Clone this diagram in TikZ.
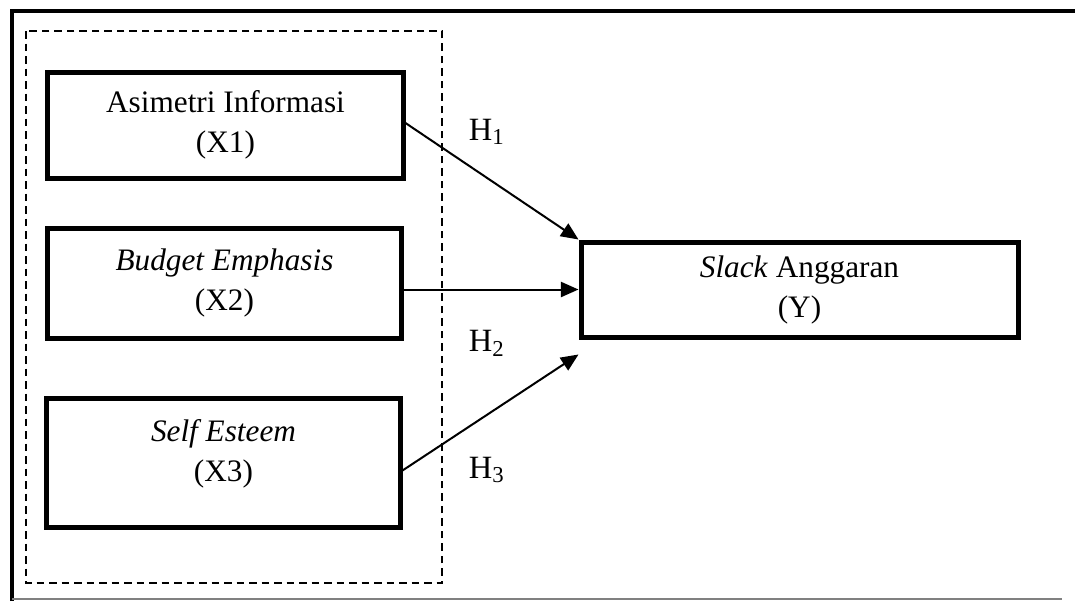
\documentclass[tikz,border=0pt]{standalone}
\usepackage{fontspec}
\setmainfont{Liberation Serif}
\usetikzlibrary{arrows.meta,calc,positioning}

\begin{document}
\begin{tikzpicture}[x=0.4pt,y=-0.4pt,>={Triangle[length=7pt,width=6pt]},
  box/.style={draw,line width=2pt,inner sep=0pt,align=center,font=\fontsize{12.5}{16}\selectfont},
  hlab/.style={font=\fontsize{13}{15}\selectfont,inner sep=0pt}]
  \useasboundingbox (0,0) rectangle (1075,601);
  % outer frame
  \draw[line width=1.6pt] (12,601) -- (12,11) -- (1075,11);
  \draw[gray,line width=0.5pt] (12,599) -- (1062,599);
  % independent variables
  \draw[line width=0.8pt,dash pattern=on 3pt off 2pt] (26,31) rectangle (442,583);
  \node[box,minimum width=142pt,minimum height=42.4pt] (x1) at (225.5,125) {Asimetri Informasi\\(X1)};
  \node[box,minimum width=141.2pt,minimum height=44pt] (x2) at (224.5,283) {\textit{Budget Emphasis}\\(X2)};
  \node[box,minimum width=141.2pt,minimum height=51.6pt,text depth=10pt] (x3) at (223.5,462.5) {\textit{Self Esteem}\\(X3)};
  \node[box,minimum width=174.8pt,minimum height=38pt] (y) at (799.5,289.5) {\textit{Slack} Anggaran\\(Y)};
  \coordinate (h3end) at ($(y.south west)+(0,15)$);
  % hypotheses
  \draw[->,line width=0.8pt] ($(x1.east)+(0,-2)$) -- (y.north west);
  \draw[->,line width=0.8pt] (x2.east |- y.west) -- (y.west);
  \draw[->,line width=0.8pt] ($(x3.east)+(0,8)$) -- (h3end);
  \node[hlab] (h1) at (487,132) {H\textsubscript{1}};
  \node[hlab] (h2) at (487,343) {H\textsubscript{2}};
  \node[hlab] (h3) at (487,470) {H\textsubscript{3}};
\end{tikzpicture}
\end{document}
